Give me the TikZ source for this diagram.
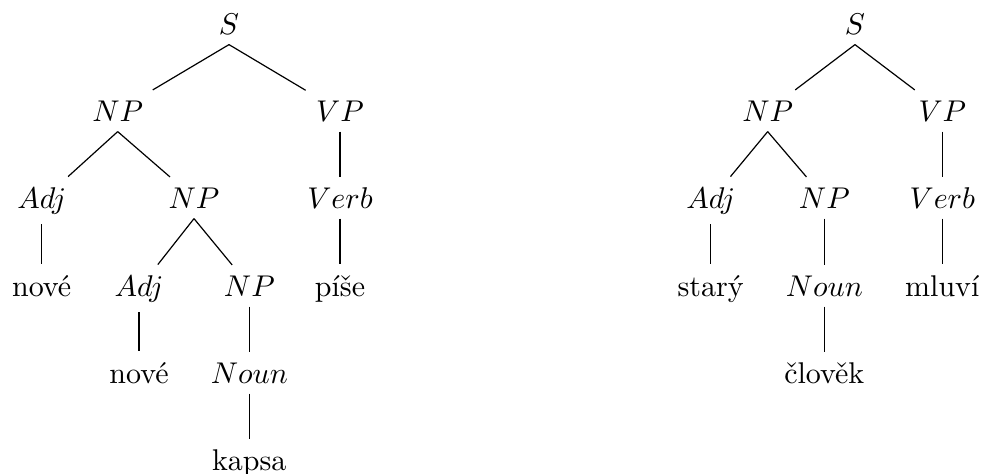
\documentclass[tikz,border=0pt]{standalone}
\begin{document}
\begin{tikzpicture}[x=0.33333pt,y=-0.33333pt,
  tn/.style={anchor=base, inner sep=0.3333em},
  edge/.style={draw, line width=0.4pt}]
\useasboundingbox (0,0) rectangle (982,473);
% left tree
\node[tn] (S)   at (229,34) {$S$};
\node[tn] (NPa) at (117.7,121) {$NP$};
\node[tn] (VPa) at (340,121) {$VP$};
\node[tn] (Ada) at (41.7,208) {$Adj$};
\node[tn] (NPb) at (194,208) {$NP$};
\node[tn] (Vba) at (340,208) {$Verb$};
\node[tn] (nva) at (41.7,296) {nové};
\node[tn] (Adb) at (139,296) {$Adj$};
\node[tn] (NPc) at (249.3,296) {$NP$};
\node[tn] (pis) at (340,296) {píše};
\node[tn] (nvb) at (139,383) {nové};
\node[tn] (Nna) at (249.3,383) {$Noun$};
\node[tn] (kap) at (249.3,470) {kapsa};
\draw[edge] (S.south) -- (NPa);
\draw[edge] (S.south) -- (VPa);
\draw[edge] (NPa.south) -- (Ada);
\draw[edge] (NPa.south) -- (NPb);
\draw[edge] (VPa.south) -- (Vba);
\draw[edge] (Ada.south) -- (nva);
\draw[edge] (NPb.south) -- (Adb);
\draw[edge] (NPb.south) -- (NPc);
\draw[edge] (Vba.south) -- (pis);
\draw[edge] (Adb.south) -- (nvb);
\draw[edge] (NPc.south) -- (Nna);
\draw[edge] (Nna.south) -- (kap);
% right tree
\node[tn] (S2)  at (855,34) {$S$};
\node[tn] (NP2a) at (767.7,121) {$NP$};
\node[tn] (VP2a) at (942.3,121) {$VP$};
\node[tn] (Ad2a) at (710.7,208) {$Adj$};
\node[tn] (NP2b) at (824.3,208) {$NP$};
\node[tn] (Vb2a) at (942.3,208) {$Verb$};
\node[tn] (sta) at (710.7,296) {starý};
\node[tn] (Nn2a) at (824.3,296) {$Noun$};
\node[tn] (mlu) at (942.3,296) {mluví};
\node[tn] (clo) at (824.3,383) {člověk};
\draw[edge] (S2.south) -- (NP2a);
\draw[edge] (S2.south) -- (VP2a);
\draw[edge] (NP2a.south) -- (Ad2a);
\draw[edge] (NP2a.south) -- (NP2b);
\draw[edge] (VP2a.south) -- (Vb2a);
\draw[edge] (Ad2a.south) -- (sta);
\draw[edge] (NP2b.south) -- (Nn2a);
\draw[edge] (Vb2a.south) -- (mlu);
\draw[edge] (Nn2a.south) -- (clo);
\end{tikzpicture}
\end{document}
